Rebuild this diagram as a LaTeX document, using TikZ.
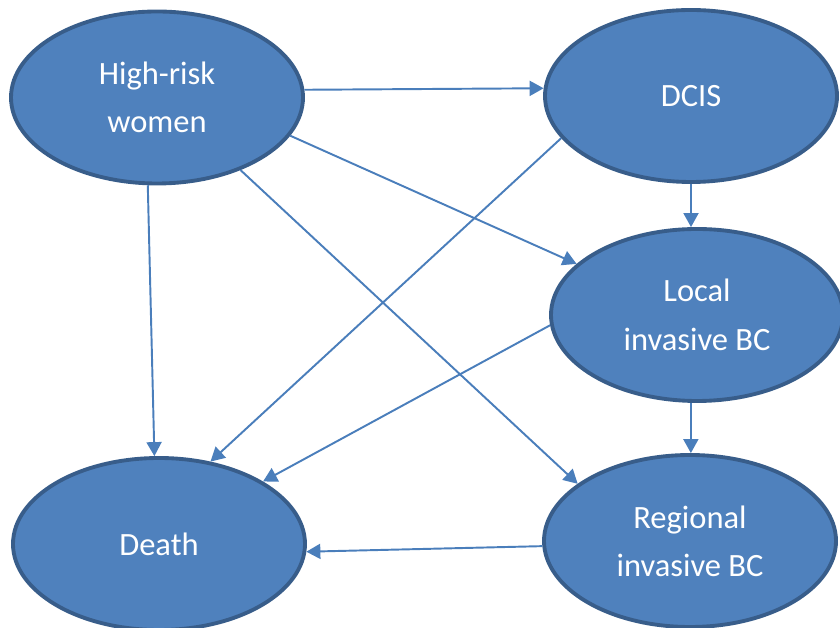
\documentclass[tikz,border=0pt]{standalone}
\usepackage{fontspec}
\setmainfont{Carlito}
\usetikzlibrary{arrows.meta,shapes.geometric}
\definecolor{stfill}{HTML}{4F81BD}
\definecolor{stline}{HTML}{385D8A}
\definecolor{arrowcol}{HTML}{4A7EBB}
\begin{document}
\begin{tikzpicture}[
            state/.style={draw=stline, ellipse, line width=2.2pt, fill=stfill, text=white, minimum width=5.84cm, minimum height=3.44cm, inner sep=0pt, align=center, font=\fontsize{18.5}{27.5}\selectfont, execute at begin node={\vspace*{4.5pt}}},
            link/.style={draw=arrowcol, line width=1.1pt, -{Triangle[length=0.28cm, width=0.3cm]}}]

            \useasboundingbox (0,0) rectangle (16.8,12.56);

            % states
            \node[state] (hr) at (3.14,10.61) {High-risk\\women};
            \node[state] (dcis) at (13.82,10.64) {DCIS};
            \node[state] (local) at (13.94,6.26) {Local\\invasive BC};
            \node[state] (death) at (3.18,1.68) {Death};
            \node[state] (regional) at (13.80,1.74) {Regional\\invasive BC};

            % from high-risk women
            \draw[link] (hr.3) -- (dcis.177);
            \draw[link] (hr.-16.4) -- (local.157);
            \draw[link] (hr.-41.4) -- (regional.153.2);
            \draw[link] (hr.-96.5) -- (death.93.9);

            % progression
            \draw[link] (dcis.south) -- (dcis.south |- local.north);
            \draw[link] (local.-94) -- (local.-94 |- regional.north);

            % to death
            \draw[link] (dcis.198.6) -- (death.58.7);
            \draw[link] (local.184.8) -- (death.31.9);
            \draw[link] (regional.182) -- (death.-3);
        \end{tikzpicture}
\end{document}
